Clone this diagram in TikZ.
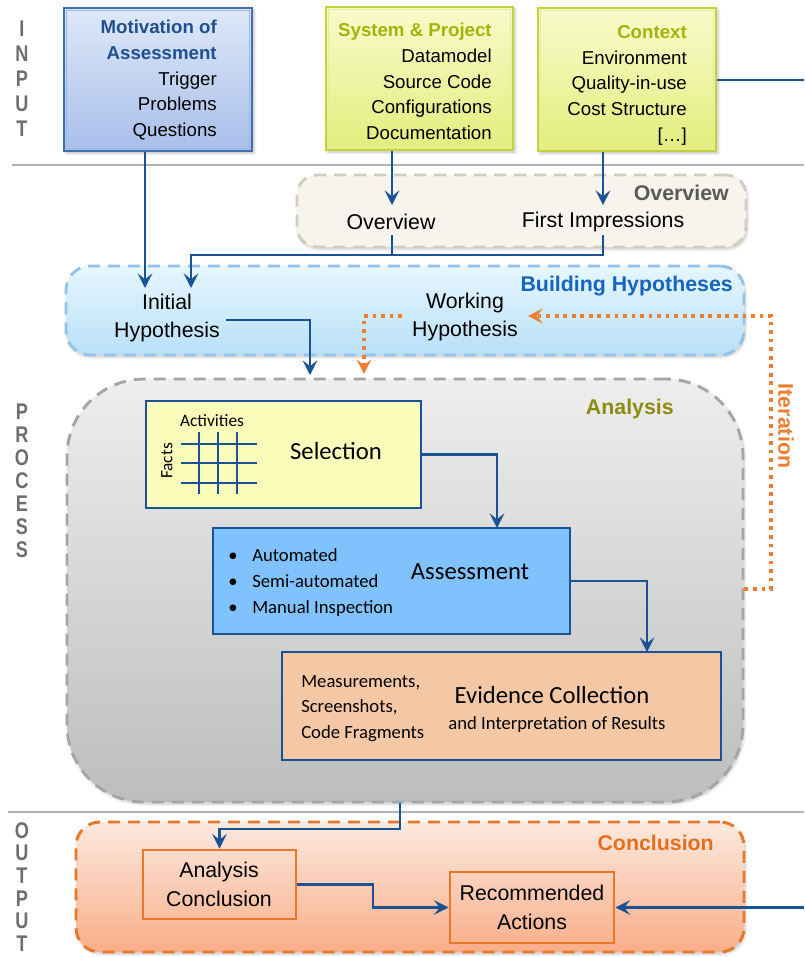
\documentclass[tikz,border=0pt]{standalone}
\usepackage{fontspec}
\setmainfont{Liberation Sans}
\newfontfamily\calfont{Carlito}
\newfontfamily\sidefont[FakeStretch=0.8]{Liberation Sans}
\usetikzlibrary{arrows.meta,fit,shadows.blur}

\definecolor{linkblue}{HTML}{1B5294}
\definecolor{motborder}{HTML}{3E6DB0}
\definecolor{motinner}{HTML}{9DB7E3}
\definecolor{mottop}{HTML}{DEE8F8}
\definecolor{motbot}{HTML}{A8BFEA}
\definecolor{mottitle}{HTML}{1F4F8F}
\definecolor{sysborder}{HTML}{C2D23A}
\definecolor{sysinner}{HTML}{E4EE96}
\definecolor{systop}{HTML}{F7FBCB}
\definecolor{sysbot}{HTML}{E2EE7C}
\definecolor{systitle}{HTML}{A4B30A}
\definecolor{ovfill}{HTML}{F6F4EC}
\definecolor{ovborder}{HTML}{D2CDBE}
\definecolor{ovtitle}{HTML}{5A5A5A}
\definecolor{hyptop}{HTML}{E6F6FE}
\definecolor{hypbot}{HTML}{B8E0F8}
\definecolor{hypborder}{HTML}{92C3EA}
\definecolor{hyptitle}{HTML}{1565C0}
\definecolor{antop}{HTML}{EEEEEE}
\definecolor{anbot}{HTML}{BDBDBD}
\definecolor{anborder}{HTML}{A5A5A5}
\definecolor{antitle}{HTML}{8C8C10}
\definecolor{contop}{HTML}{FDE9DF}
\definecolor{conbot}{HTML}{F8AE88}
\definecolor{conborder}{HTML}{E8772A}
\definecolor{contitle}{HTML}{E4701F}
\definecolor{iter}{HTML}{ED7D31}
\definecolor{selfill}{HTML}{FAFCB9}
\definecolor{assfill}{HTML}{80C2FD}
\definecolor{evifill}{HTML}{F4C7A5}
\definecolor{sidegray}{HTML}{6E6E6E}
\definecolor{sepgray}{HTML}{B4B4B4}

\tikzset{
  inbox/.style={draw, line width=1.8pt, inner sep=0pt,
    blur shadow={shadow xshift=1.5pt, shadow yshift=-1.5pt, shadow blur steps=4, shadow opacity=25}},
  region/.style={draw, line width=2.2pt, dash pattern=on 9pt off 6pt, inner sep=0pt,
    blur shadow={shadow xshift=1pt, shadow yshift=-1.5pt, shadow blur steps=5, shadow opacity=22}},
  stepbox/.style={draw=linkblue, line width=2.2pt, inner sep=0pt},
  outbox/.style={draw=conborder, line width=2.2pt, inner sep=0pt},
  link/.style={linkblue, line width=2.2pt},
  arr/.style={link, -{Stealth[length=11pt, width=11pt, inset=4.5pt]}},
  iterline/.style={iter, line width=2.8pt, dash pattern=on 2.8pt off 3.6pt},
  iterarr/.style={iterline, -{Stealth[length=11pt, width=11pt, inset=4.5pt]}},
  sidelbl/.style={text=sidegray, font=\sidefont\bfseries\fontsize{17}{18.75}\selectfont, align=center, inner sep=0pt},
  intext/.style={anchor=north east, align=right, inner sep=0pt, font=\fontsize{14}{19.3}\selectfont},
  title/.style={anchor=base east, inner sep=0pt, font=\fontsize{16}{19}\selectfont\bfseries},
  plain/.style={inner sep=0pt, align=center, font=\fontsize{16}{21.5}\selectfont},
  caltext/.style={inner sep=0pt, font=\calfont\fontsize{14}{17}\selectfont},
  calbig/.style={inner sep=0pt, font=\calfont\fontsize{18.5}{22}\selectfont},
  grid/.style={linkblue, line width=1pt}
}

\begin{document}
\begin{tikzpicture}[x=0.75pt, y=-0.75pt]
\useasboundingbox (0,0) rectangle (804,957);

% section separators
\draw[sepgray, line width=1.2pt] (12,165) -- (804,165);
\draw[sepgray, line width=1.2pt] (8,812) -- (804,812);

% side labels
\node[sidelbl] (inlbl) at (22,79) {I\\N\\P\\U\\T};
\node[sidelbl, font=\sidefont\bfseries\fontsize{17}{17.25}\selectfont] (prlbl) at (22,481) {P\\R\\O\\C\\E\\S\\S};
\node[sidelbl, font=\sidefont\bfseries\fontsize{17}{17}\selectfont] (outlbl) at (22,887) {O\\U\\T\\P\\U\\T};

% ---------- input boxes ----------
\node[inbox, draw=motborder, top color=mottop, bottom color=motbot, fit={(64,8) (252,151)}] (mot) {};
\draw[motinner, line width=0.8pt] ([shift={(4,4)}]mot.north west) rectangle ([shift={(-4,-4)}]mot.south east);
\node[intext] (mottxt) at (217,20) {{\bfseries\color{mottitle}Motivation of}\\{\bfseries\color{mottitle}Assessment}\\Trigger\\Problems\\Questions};

\node[inbox, draw=sysborder, top color=systop, bottom color=sysbot, fit={(326,7) (513,150)}] (sys) {};
\draw[sysinner, line width=0.8pt] ([shift={(4,4)}]sys.north west) rectangle ([shift={(-4,-4)}]sys.south east);
\node[intext] (systxt) at (492,23) {{\bfseries\color{systitle}System \& Project}\\Datamodel\\Source Code\\Configurations\\Documentation};

\node[inbox, draw=sysborder, top color=systop, bottom color=sysbot, fit={(538,8) (716,151)}] (ctx) {};
\draw[sysinner, line width=0.8pt] ([shift={(4,4)}]ctx.north west) rectangle ([shift={(-4,-4)}]ctx.south east);
\node[intext] (ctxtxt) at (687,25) {{\bfseries\color{systitle}Context}\\Environment\\Quality-in-use\\Cost Structure\\{[\dots]}};

% ---------- process regions ----------
\node[region, draw=ovborder, fill=ovfill, rounded corners=15pt, fit={(297,175) (746,247)}] (ovr) {};
\node[title, text=ovtitle] (ovrtitle) at (729,200.5) {Overview};
\node[plain] (ovtxt) at (391,222) {Overview};
\node[plain] (fitxt) at (603,222) {First Impressions};

\node[region, draw=hypborder, top color=hyptop, bottom color=hypbot, rounded corners=18pt, fit={(66,266) (744,355)}] (hyp) {};
\node[title, text=hyptitle] (hyptitle) at (733,291.5) {Building Hypotheses};
\node[plain] (ini) at (167,318) {Initial\\Hypothesis};
\node[plain] (work) at (465,317) {Working\\Hypothesis};

\node[region, draw=anborder, top color=antop, bottom color=anbot, rounded corners=58pt, fit={(67,379) (743,802)}] (ana) {};
\node[title, text=antitle] (anatitle) at (674,414.5) {Analysis};

% selection step with its facts/activities grid
\node[stepbox, fill=selfill, fit={(146,401) (421,508)}] (sel) {};
\node[calbig] (seltxt) at (336,451) {Selection};
\node[caltext, font=\calfont\fontsize{13}{15}\selectfont] (acts) at (212,421) {Activities};
\node[caltext, font=\calfont\fontsize{13}{15}\selectfont, rotate=90] (facts) at (167,461) {Facts};
\foreach \gy in {444,463,483} \draw[grid] (181,\gy) -- (257,\gy);
\foreach \gx in {199,218,237} \draw[grid] (\gx,432) -- (\gx,494);

% assessment step
\node[stepbox, fill=assfill, fit={(213,528) (570,634)}] (ass) {};
\node[calbig] (asstxt) at (470,572) {Assessment};
\node[caltext, anchor=base] (b1) at (233,561) {\textbullet};
\node[caltext, anchor=base] (b2) at (233,587) {\textbullet};
\node[caltext, anchor=base] (b3) at (233,613) {\textbullet};
\node[caltext, anchor=base west] (auto) at (252,561) {Automated};
\node[caltext, anchor=base west] (semi) at (252,587) {Semi-automated};
\node[caltext, anchor=base west] (manual) at (252,613) {Manual Inspection};

% evidence step
\node[stepbox, fill=evifill, fit={(282,652) (721,760)}] (evi) {};
\node[caltext, anchor=base west] (meas) at (301,687) {Measurements,};
\node[caltext, anchor=base west] (shots) at (301,712) {Screenshots,};
\node[caltext, anchor=base west] (frag) at (301,738) {Code Fragments};
\node[calbig] (evitxt) at (552,695) {Evidence Collection};
\node[caltext] (interp) at (557,725) {and Interpretation of Results};

% ---------- output region ----------
\node[region, draw=conborder, top color=contop, bottom color=conbot, rounded corners=18pt, fit={(76,822) (744,952)}] (con) {};
\node[title, text=contitle] (contitle) at (714,850.5) {Conclusion};
\node[outbox, fit={(143,850) (296,919)}] (acon) {};
\node[plain] (acontxt) at (219,884.5) {Analysis\\Conclusion};
\node[outbox, fit={(450,872) (614,943)}] (rec) {};
\node[plain] (rectxt) at (532,907.5) {Recommended\\Actions};

% ---------- connectors ----------
\coordinate (tipA) at (145,288);
\draw[arr] (mot.south -| tipA) -- (tipA);

\coordinate (tipB) at (392,205);
\draw[arr] (sys.south -| tipB) -- (tipB);
\coordinate (tipC) at (603,205);
\draw[arr] (ctx.south -| tipC) -- (tipC);

\coordinate (ovfoot) at (392,235);
\coordinate (fifoot) at (603,235);
\coordinate (joinO) at (191,255);
\coordinate (tipD) at (191,288);
\draw[link] (ovfoot) -- (ovfoot |- joinO);
\draw[arr] (fifoot) -- (fifoot |- joinO) -- (joinO) -- (tipD);

\coordinate (iniout) at (226,320);
\coordinate (tipE) at (310,375);
\draw[arr] (iniout) -| (tipE);

% iteration loop
\coordinate (itlow) at (771,589);
\coordinate (ithigh) at (771,316);
\coordinate (tipF) at (528,316);
\draw[iterarr] (ana.east |- itlow) -- (itlow) -- (ithigh) -- (tipF);
\node[inner sep=0pt, rotate=-90, text=iter, font=\fontsize{16}{19}\selectfont\bfseries] (itlbl) at (786,426) {Iteration};
\coordinate (wkl) at (402,316);
\coordinate (tipG) at (364,374);
\draw[iterarr] (wkl) -| (tipG);

\coordinate (tipH) at (497,528);
\draw[arr] (sel.east) -| (tipH);
\coordinate (tipI) at (647,652);
\draw[arr] (ass.east) -| (tipI);

\coordinate (jx) at (400,829);
\draw[arr] (ana.south -| jx) -- (jx) -| (acon.north);
\coordinate (kx) at (373,907.5);
\draw[arr] (acon.east) -| (kx) -- (rec.west);

% context feeds the recommended actions around the right margin
\coordinate (ctxexit) at (804,80);
\draw[link] (ctx.east |- ctxexit) -- (ctxexit);
\coordinate (recentry) at (804,907.5);
\draw[arr] (recentry) -- (rec.east);
\end{tikzpicture}
\end{document}
